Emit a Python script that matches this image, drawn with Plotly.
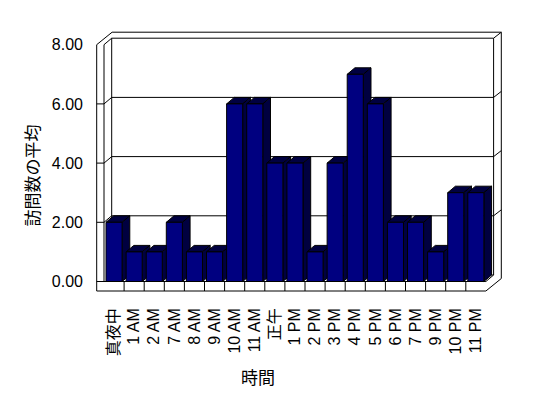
import plotly.graph_objects as go

# ---------------- data ----------------
categories = ["真夜中", "1 AM", "2 AM", "7 AM", "8 AM", "9 AM", "10 AM", "11 AM", "正午",
              "1 PM", "2 PM", "3 PM", "4 PM", "5 PM", "6 PM", "7 PM", "9 PM", "10 PM", "11 PM"]
visits = [2, 1, 1, 2, 1, 1, 6, 6, 4, 4, 1, 4, 7, 6, 2, 2, 1, 3, 3]
y_ticks = [0, 2, 4, 6, 8]
y_tick_labels = [f"{t:.2f}" for t in y_ticks]
x_title = "時間"
y_title = "訪問数の平均"

# ---------------- geometry (page pixels; page has an 8px body margin) ----------------
OFF = 8
W, H = 548 - OFF, 398 - OFF
ML, MR, MT, MB = 96 - OFF, 44 - OFF, 28 - OFF, 106 - OFF
X0, CW = 104.0 - OFF, 20.1   # front plane left edge, px per category
Y0, VU = 281.5 - OFF, 29.6   # px of value 0, px per unit
DXP, DYP = 7.7, 6.5          # depth of floor / bars
TXP, TYP = 7.7, 6.0          # back wall thickness
LW = 7.3                     # left wall thickness
FT = 9.5                     # floor thickness
BAR_W = 0.8

FRONT = "#000080"
SHADE = "#000040"
FONT = "Liberation Sans, Arial, Noto Sans CJK JP"

n = len(categories)
X1 = X0 + n * CW
YMAX = y_ticks[-1]


def ux(px):
    return (px - X0) / CW - 0.5


def vy(py):
    return (Y0 - py) / VU


def py_of(v):
    return Y0 - v * VU


dxu = DXP / CW
dyu = DYP / VU

fig = go.Figure()

# ---------------- frame ----------------
ytop = py_of(YMAX)
sil = [
    (X0 - LW, Y0 + FT),
    (X0 - LW, ytop),
    (X0 - LW + DXP + TXP, ytop - DYP - TYP),
    (X1 + DXP + TXP, ytop - DYP - TYP),
    (X1 + DXP + TXP, Y0 + FT - DYP - TYP),
    (X1, Y0 + FT),
    (X0 - LW, Y0 + FT),
]
fig.add_trace(go.Scatter(x=[ux(p[0]) for p in sil], y=[vy(p[1]) for p in sil],
                         mode="lines", fill="toself", fillcolor="white",
                         line=dict(color="black", width=1),
                         hoverinfo="skip", showlegend=False))

segs = []
segs.append([(X0, ytop), (X0, Y0)])
bx0, bx1 = X0 + DXP, X1 + DXP
segs.append([(bx0, ytop - DYP), (bx0, Y0 - DYP)])
segs.append([(bx0, ytop - DYP), (bx1, ytop - DYP)])
segs.append([(bx1, ytop - DYP), (bx1, Y0 - DYP)])
segs.append([(bx0, Y0 - DYP), (bx1, Y0 - DYP)])
segs.append([(X0, ytop), (bx0, ytop - DYP)])
segs.append([(bx1, ytop - DYP), (bx1 + TXP, ytop - DYP - TYP)])
for t in y_ticks[1:-1]:
    yv = py_of(t)
    segs.append([(X0 - LW, yv), (X0, yv), (bx0, yv - DYP), (bx1, yv - DYP),
                 (bx1 + TXP, yv - DYP - TYP)])
segs.append([(X0 - LW, Y0), (X1, Y0), (bx1, Y0 - DYP)])
for k in range(1, n):
    xk = X0 + k * CW
    segs.append([(xk, Y0), (xk, Y0 + FT)])

lx, ly = [], []
for s in segs:
    for p in s:
        lx.append(ux(p[0]))
        ly.append(vy(p[1]))
    lx.append(None)
    ly.append(None)
fig.add_trace(go.Scatter(x=lx, y=ly, mode="lines", line=dict(color="black", width=1),
                         hoverinfo="skip", showlegend=False))

# ---------------- bars ----------------
for i, v in enumerate(visits):
    l, r = i - BAR_W / 2, i + BAR_W / 2
    top = [(l, v), (r, v), (r + dxu, v + dyu), (l + dxu, v + dyu), (l, v)]
    side = [(r, 0), (r + dxu, dyu), (r + dxu, v + dyu), (r, v), (r, 0)]
    front = [(l, 0), (r, 0), (r, v), (l, v), (l, 0)]
    for poly, col in ((top, SHADE), (side, SHADE), (front, FRONT)):
        fig.add_trace(go.Scatter(x=[p[0] for p in poly], y=[p[1] for p in poly],
                                 mode="lines", fill="toself", fillcolor=col,
                                 line=dict(color="black", width=1),
                                 name=categories[i], hoverinfo="skip", showlegend=False))

pw = W - ML - MR
ph = H - MT - MB

fig.update_layout(
    width=W, height=H,
    margin=dict(l=ML, r=MR, t=MT, b=MB, pad=0),
    paper_bgcolor="white", plot_bgcolor="white",
    font=dict(family=FONT, size=16, color="black"),
    xaxis=dict(range=[ux(ML), ux(W - MR)], tickmode="array",
               tickvals=list(range(n)), ticktext=categories, tickangle=-90,
               showgrid=False, zeroline=False, showline=False, ticks="",
               ticklabelstandoff=4, automargin=False,
               tickfont=dict(family=FONT, size=16, color="black"), fixedrange=True),
    yaxis=dict(range=[vy(H - MB), vy(MT)], tickmode="array",
               tickvals=y_ticks, ticktext=y_tick_labels,
               showgrid=False, zeroline=False, showline=False, ticks="",
               ticklabelstandoff=12, automargin=False,
               tickfont=dict(family=FONT, size=16, color="black"), fixedrange=True),
    annotations=[
        dict(text=y_title, xref="paper", yref="paper",
             x=(30.5 - OFF - ML) / pw, y=1 - (176 - OFF - MT) / ph,
             xanchor="center", yanchor="middle", textangle=-90, showarrow=False,
             font=dict(family="Noto Sans CJK JP", size=17, color="black")),
        dict(text=x_title, xref="paper", yref="paper",
             x=(258 - OFF - ML) / pw, y=1 - (376 - OFF - MT) / ph,
             xanchor="center", yanchor="middle", showarrow=False,
             font=dict(family="Noto Sans CJK JP", size=17, color="black")),
    ],
    showlegend=False,
)

fig.write_html("out.html")
